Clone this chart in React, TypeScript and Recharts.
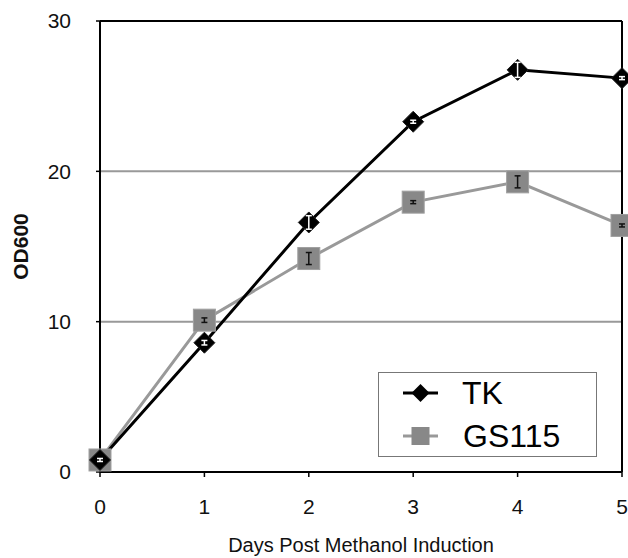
import React from "react";
import { LineChart, Line, XAxis, YAxis, ReferenceLine, ErrorBar } from "recharts";

const days = [0, 1, 2, 3, 4, 5];
const tkValues = [0.8, 8.6, 16.6, 23.3, 26.75, 26.2];
const tkErrors = [0.1, 0.15, 0.45, 0.1, 0.5, 0.1];
const gsValues = [0.8, 10.1, 14.2, 17.95, 19.3, 16.4];
const gsErrors = [0.1, 0.15, 0.4, 0.1, 0.4, 0.1];
const yTicks = [0, 10, 20, 30];
const gridValues = [10, 20];
const seriesNames = ["TK", "GS115"];

const data = days.map((d, i) => ({
  day: d,
  tk: tkValues[i],
  tkErr: tkErrors[i],
  gs: gsValues[i],
  gsErr: gsErrors[i],
}));

const FONT = "'Liberation Sans', Arial, Helvetica, sans-serif";
const TK_COLOR = "#000000";
const GS_LINE = "#999999";
const GS_FILL = "#888888";

const DiamondDot = (props: any) => {
  const { cx, cy } = props;
  if (cx == null || cy == null) return null;
  const r = 10.5;
  return (
    <polygon
      key={`d-${cx}`}
      points={`${cx},${cy - r} ${cx + r},${cy} ${cx},${cy + r} ${cx - r},${cy}`}
      fill={TK_COLOR}
      stroke="#222"
      strokeWidth={1}
    />
  );
};

const SquareDot = (props: any) => {
  const { cx, cy } = props;
  if (cx == null || cy == null) return null;
  const s = 22;
  return (
    <rect
      key={`s-${cx}`}
      x={cx - s / 2}
      y={cy - s / 2}
      width={s}
      height={s}
      fill={GS_FILL}
      stroke="#a0a0a0"
      strokeWidth={1}
    />
  );
};

const YLabel = (props: any) => {
  const vb = props.viewBox || { x: 0, y: 0, width: 0, height: 0 };
  const x = vb.x + 20;
  const y = vb.y + vb.height / 2;
  return (
    <text
      x={x}
      y={y}
      transform={`rotate(-90 ${x} ${y})`}
      textAnchor="middle"
      dominantBaseline="central"
      fontFamily={FONT}
      fontSize={21}
      fontWeight="bold"
      fill="#111"
    >
      OD600
    </text>
  );
};

const LegendBox = () => (
  <div
    style={{
      position: "absolute",
      left: 378,
      top: 372,
      width: 219,
      height: 85,
      boxSizing: "border-box",
      border: "1.5px solid #777",
      background: "#fff",
      fontFamily: FONT,
    }}
  >
    <svg width={216} height={82} style={{ position: "absolute", left: 0, top: 0 }}>
      <line x1={24} x2={59} y1={20} y2={20} stroke={TK_COLOR} strokeWidth={3} />
      <polygon points="41.5,11 50.5,20 41.5,29 32.5,20" fill={TK_COLOR} />
      <text x={83} y={20} dominantBaseline="central" fontSize={32} fontFamily={FONT} fill="#000">
        {seriesNames[0]}
      </text>
      <line x1={24} x2={59} y1={63} y2={63} stroke={GS_LINE} strokeWidth={3} />
      <rect x={32.5} y={54} width={18} height={18} fill={GS_FILL} />
      <text x={84} y={63} dominantBaseline="central" fontSize={32} fontFamily={FONT} fill="#000">
        {seriesNames[1]}
      </text>
    </svg>
  </div>
);

export default function App() {
  return (
    <div style={{ position: "absolute", left: 0, top: 0, width: 628, height: 558, background: "#fff" }}>
      <LineChart
        width={628}
        height={558}
        data={data}
        margin={{ top: 21, right: 6, bottom: 0, left: 0 }}
      >
        {gridValues.map((g) => (
          <ReferenceLine key={g} y={g} stroke="#999" strokeWidth={2} />
        ))}
        <ReferenceLine y={30} stroke="#000" strokeWidth={2} />
        <ReferenceLine x={5} stroke="#000" strokeWidth={2} />
        <XAxis
          dataKey="day"
          type="number"
          domain={[0, 5]}
          ticks={days}
          height={86}
          axisLine={{ stroke: "#000", strokeWidth: 2 }}
          tickLine={{ stroke: "#000", strokeWidth: 1.5 }}
          tickSize={5}
          tickMargin={22}
          tick={{ fontSize: 21, fontFamily: FONT, fill: "#111" }}
          label={{
            value: "Days Post Methanol Induction",
            position: "insideBottom",
            offset: 6,
            style: { fontSize: 20, fontFamily: FONT, fill: "#111" },
          }}
        />
        <YAxis
          type="number"
          domain={[0, 30]}
          ticks={yTicks}
          width={100}
          axisLine={{ stroke: "#000", strokeWidth: 2 }}
          tickLine={{ stroke: "#000", strokeWidth: 1.5 }}
          tickSize={4}
          tickMargin={25}
          tick={{ fontSize: 21, fontFamily: FONT, fill: "#111" }}
          label={<YLabel />}
        />
        <Line
          dataKey="gs"
          name={seriesNames[1]}
          stroke={GS_LINE}
          strokeWidth={3}
          dot={<SquareDot />}
          activeDot={false}
          isAnimationActive={false}
        />
        <Line
          dataKey="tk"
          name={seriesNames[0]}
          stroke={TK_COLOR}
          strokeWidth={3}
          dot={<DiamondDot />}
          activeDot={false}
          isAnimationActive={false}
        />
        <Line
          dataKey="gs"
          stroke="none"
          dot={false}
          activeDot={false}
          legendType="none"
          isAnimationActive={false}
          {...({ zIndex: 3000 } as any)}
        >
          <ErrorBar dataKey="gsErr" stroke="#111" strokeWidth={1.5} width={3} isAnimationActive={false} {...({ zIndex: 3000 } as any)} />
        </Line>
        <Line
          dataKey="tk"
          stroke="none"
          dot={false}
          activeDot={false}
          legendType="none"
          isAnimationActive={false}
          {...({ zIndex: 3000 } as any)}
        >
          <ErrorBar dataKey="tkErr" stroke="#fff" strokeWidth={1.5} width={3} isAnimationActive={false} {...({ zIndex: 3000 } as any)} />
        </Line>
      </LineChart>
      <LegendBox />
    </div>
  );
}
